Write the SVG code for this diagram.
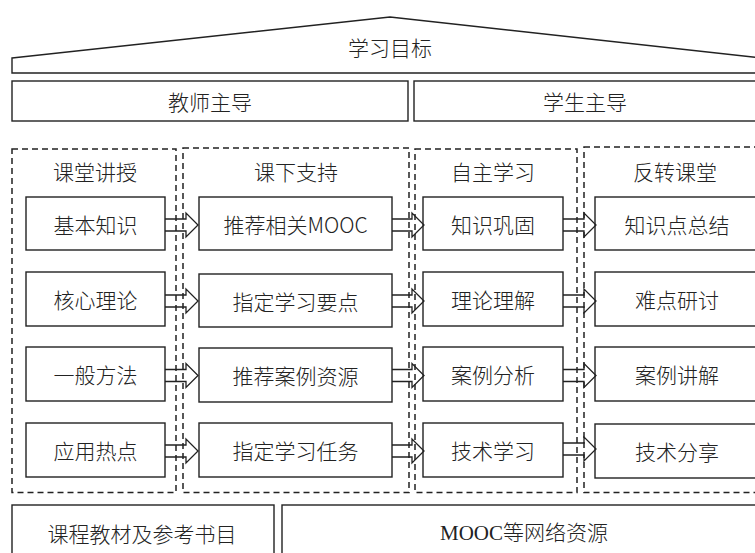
<svg xmlns="http://www.w3.org/2000/svg" width="755" height="553" viewBox="0 0 755 553">
<style>
.box{fill:#fff;stroke:#222;stroke-width:1.4}
.dash{fill:none;stroke:#222;stroke-width:1.5;stroke-dasharray:6,4}
.arr{fill:none;stroke:#222;stroke-width:1.3;stroke-linejoin:miter}
text{font-family:"Noto Sans CJK SC","Noto Sans",sans-serif;font-size:21px;font-weight:300;fill:#222;text-anchor:middle;dominant-baseline:central}
.serif{font-family:"Liberation Serif","Noto Sans CJK SC",serif}
</style>
<rect width="755" height="553" fill="#fff"/>
<g id="roof">
<polygon class="box" points="12,58 390,17 762,58 762,73 12,73"/>
<text x="390" y="47">学习目标</text>
</g>
<g id="teacher"><rect class="box" x="12" y="81" width="396" height="40"/><text x="210" y="101">教师主导</text></g>
<g id="student"><rect class="box" x="414" y="81" width="350" height="40"/><text x="585" y="101">学生主导</text></g>

<g id="c1"><rect class="dash" x="12" y="149" width="164" height="343.5"/><text x="95" y="171">课堂讲授</text></g>
<g id="c2"><rect class="dash" x="183" y="148" width="226" height="344.5"/><text x="296" y="171">课下支持</text></g>
<g id="c3"><rect class="dash" x="415" y="149" width="162" height="343.5"/><text x="493" y="171">自主学习</text></g>
<g id="c4"><rect class="dash" x="584" y="147" width="180" height="345.5"/><text x="675" y="171">反转课堂</text></g>

<g id="n11"><rect class="box" x="26" y="197" width="139" height="53"/><text x="95.5" y="223.5">基本知识</text></g>
<g id="n12"><rect class="box" x="26" y="272" width="139" height="54"/><text x="95.5" y="299">核心理论</text></g>
<g id="n13"><rect class="box" x="26" y="347" width="139" height="54"/><text x="95.5" y="374">一般方法</text></g>
<g id="n14"><rect class="box" x="26" y="423" width="139" height="54"/><text x="95.5" y="450">应用热点</text></g>

<g id="n21"><rect class="box" x="199" y="197" width="193" height="53"/><text x="295.5" y="223.5">推荐相关MOOC</text></g>
<g id="n22"><rect class="box" x="199" y="274" width="193" height="53"/><text x="295.5" y="300.5">指定学习要点</text></g>
<g id="n23"><rect class="box" x="199" y="348" width="193" height="54"/><text x="295.5" y="375">推荐案例资源</text></g>
<g id="n24"><rect class="box" x="199" y="423" width="193" height="54"/><text x="295.5" y="450">指定学习任务</text></g>

<g id="n31"><rect class="box" x="423" y="197" width="140" height="53"/><text x="493" y="223.5">知识巩固</text></g>
<g id="n32"><rect class="box" x="423" y="272" width="140" height="54"/><text x="493" y="299">理论理解</text></g>
<g id="n33"><rect class="box" x="423" y="347" width="140" height="54"/><text x="493" y="374">案例分析</text></g>
<g id="n34"><rect class="box" x="423" y="423" width="140" height="54"/><text x="493" y="450">技术学习</text></g>

<g id="n41"><rect class="box" x="595" y="197" width="170" height="53"/><text x="677" y="223.5">知识点总结</text></g>
<g id="n42"><rect class="box" x="595" y="272" width="170" height="54"/><text x="677" y="299">难点研讨</text></g>
<g id="n43"><rect class="box" x="595" y="347" width="170" height="54"/><text x="677" y="374">案例讲解</text></g>
<g id="n44"><rect class="box" x="595" y="424" width="170" height="54"/><text x="677" y="451">技术分享</text></g>

<g id="books"><rect class="box" x="12" y="505" width="262" height="60"/><text x="142" y="533">课程教材及参考书目</text></g>
<g id="web"><rect class="box" x="282" y="505" width="482" height="60"/><text class="serif" x="524" y="533">MOOC等网络资源</text></g>

<g id="connectors">
<path class="arr" d="M165,219 H186 V213 L198,225 L186,237 V231 H165"/>
<path class="arr" d="M165,295 H186 V289 L198,301 L186,313 V307 H165"/>
<path class="arr" d="M165,369.5 H186 V363.5 L198,375.5 L186,387.5 V381.5 H165"/>
<path class="arr" d="M165,445 H186 V439 L198,451 L186,463 V457 H165"/>

<path class="arr" d="M392,219 H412 V213 L424,225 L412,237 V231 H392"/>
<path class="arr" d="M392,295 H412 V289 L424,301 L412,313 V307 H392"/>
<path class="arr" d="M392,369.5 H412 V363.5 L424,375.5 L412,387.5 V381.5 H392"/>
<path class="arr" d="M392,445 H412 V439 L424,451 L412,463 V457 H392"/>

<path class="arr" d="M563,219 H584 V213 L596,225 L584,237 V231 H563"/>
<path class="arr" d="M563,295 H584 V289 L596,301 L584,313 V307 H563"/>
<path class="arr" d="M563,369.5 H584 V363.5 L596,375.5 L584,387.5 V381.5 H563"/>
<path class="arr" d="M563,443 H584 V437 L596,449 L584,461 V455 H563"/>
</g>
</svg>
